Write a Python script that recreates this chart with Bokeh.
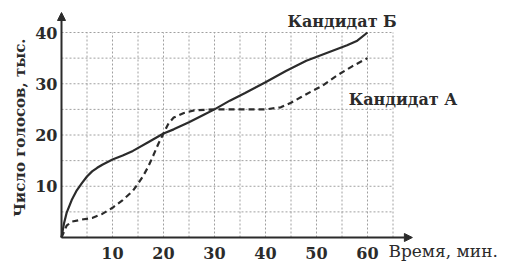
import math
from bokeh.plotting import figure
from bokeh.models import Range1d, Arrow, NormalHead, Label
from bokeh.core.properties import value
from bokeh.embed import file_html
from bokeh.resources import INLINE

# ---- data ----
time_b = [0, 0.5, 1, 2, 3, 4, 5, 6, 7, 8, 10, 12, 14, 17, 20, 22, 25, 28, 30, 33, 36, 40, 44, 48, 52, 56, 58, 60]
votes_b = [0, 2.8, 4.8, 7.3, 9.2, 10.6, 11.9, 12.9, 13.6, 14.2, 15.2, 16.0, 16.9, 18.6, 20.3, 21.1, 22.5, 24.0, 25.0, 26.7, 28.2, 30.3, 32.5, 34.5, 36.0, 37.5, 38.4, 40]

time_a = [0, 1, 2, 4, 6, 8, 10, 12, 14, 15, 16, 17, 18, 19, 20, 21, 22, 24, 26, 30, 35, 40, 43, 45, 47, 49, 51, 54, 57, 60]
votes_a = [0, 2.3, 3.1, 3.5, 3.8, 4.6, 5.8, 7.3, 9.1, 10.5, 12.0, 13.8, 16.0, 18.3, 20.3, 22.3, 23.4, 24.3, 24.8, 25, 25, 25, 25.4, 26.3, 27.4, 28.5, 29.5, 31.6, 33.4, 35]

x_ticks = [10, 20, 30, 40, 50, 60]
y_ticks = [10, 20, 30, 40]
x_tick_labels = ["10", "20", "30", "40", "50", "60"]
y_tick_labels = ["10", "20", "30", "40"]
x_grid = [5, 10, 15, 20, 25, 30, 35, 40, 45, 50, 55, 60, 65]
y_grid = [5, 10, 15, 20, 25, 30, 35, 40]

name_a = "Кандидат А"
name_b = "Кандидат Б"
x_title = "Время, мин."
y_title = "Число голосов, тыс."

FONT = "DejaVu Serif"
INK = "#2b2b2b"

# frame covers the whole canvas; scales: 5.1 px per minute, 5.125 px per thousand
p = figure(width=506, height=261, output_backend="svg", toolbar_location=None,
           x_range=Range1d(-61 / 5.1, 445 / 5.1), y_range=Range1d(-24 / 5.125, 237 / 5.125),
           min_border=0)
p.outline_line_color = None
p.xaxis.visible = False
p.yaxis.visible = False
p.xgrid.visible = False
p.ygrid.visible = False

# grid
gx_top = y_grid[-1]
gy_right = x_grid[-1]
p.segment(x0=x_grid, y0=[0] * len(x_grid), x1=x_grid, y1=[gx_top] * len(x_grid),
          line_color="#a0a0a0", line_width=1, line_dash="2 2")
p.segment(x0=[0] * len(y_grid), y0=y_grid, x1=[gy_right] * len(y_grid), y1=y_grid,
          line_color="#a0a0a0", line_width=1, line_dash="2 2")

# series
p.line(time_b, votes_b, line_color=INK, line_width=2.2)
p.line(time_a, votes_a, line_color=INK, line_width=2.2, line_dash="6 4")

# axis arrows
p.add_layout(Arrow(end=NormalHead(size=8, fill_color=INK, line_color=INK),
                   x_start=0, y_start=0, x_end=68.8, y_end=0,
                   line_color=INK, line_width=2))
p.add_layout(Arrow(end=NormalHead(size=8, fill_color=INK, line_color=INK),
                   x_start=0, y_start=0, x_end=0, y_end=43.9,
                   line_color=INK, line_width=2))

# tick labels
p.text(x=x_ticks, y=[0] * len(x_ticks), text=x_tick_labels, y_offset=15,
       text_align="center", text_baseline="middle", text_font=value(FONT),
       text_font_style="bold", text_font_size="16px", text_color=INK)
p.text(x=[0] * len(y_ticks), y=y_ticks, text=y_tick_labels, x_offset=-4,
       text_align="right", text_baseline="middle", text_font=value(FONT),
       text_font_style="bold", text_font_size="16px", text_color=INK)

# labels
p.add_layout(Label(x=44.3, y=42.15, text=name_b, text_font=FONT, text_font_style="bold",
                   text_font_size="16px", text_color=INK, text_baseline="middle"))
p.add_layout(Label(x=56.3, y=27.0, text=name_a, text_font=FONT, text_font_style="bold",
                   text_font_size="16px", text_color=INK, text_baseline="middle"))
p.add_layout(Label(x=64.1, y=-2.73, text=x_title, text_font=FONT,
                   text_font_size="17px", text_color=INK, text_baseline="middle"))
p.add_layout(Label(x=-8.04, y=21.46, text=y_title, text_font=FONT, text_font_style="bold",
                   text_font_size="15px", text_color=INK, text_baseline="middle",
                   text_align="center", angle=math.pi / 2))

open("out.html", "w").write(file_html(p, INLINE))
